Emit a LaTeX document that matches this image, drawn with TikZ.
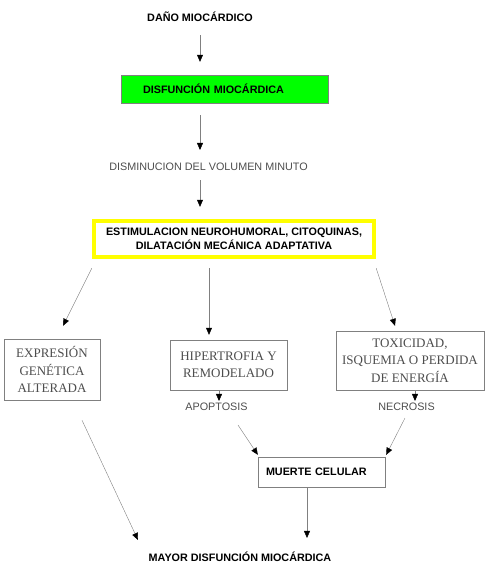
\documentclass[tikz,border=0pt]{standalone}
\usepackage{fontspec}
\setmainfont{Liberation Sans}
\newfontfamily\boxfont{Liberation Serif}
\usetikzlibrary{arrows.meta,positioning,calc}
\definecolor{GREENBOX}{HTML}{00FF00}
\definecolor{YELLOWBOX}{HTML}{FFFF00}
\definecolor{EDGE}{HTML}{808080}
\definecolor{TXTGRAY}{HTML}{4D4D4D}
\tikzset{
    T/.style={inner sep=0pt, font=\fontsize{10.8}{14}\selectfont\bfseries},
    G/.style={inner sep=0pt, text=TXTGRAY, font=\fontsize{10.8}{13}\selectfont},
    B/.style={draw=EDGE, align=center, text=TXTGRAY, font=\boxfont\fontsize{13}{17.5}\selectfont},
    arr/.style={draw=EDGE, -{Triangle[length=7pt,width=6pt,color=black]}},
}

\begin{document}
\begin{tikzpicture}[x=1pt,y=1pt]
        \useasboundingbox (0,0) rectangle (499,-566);

        \node[T] (dano) at (200,-17) {DAÑO MIOCÁRDICO};
        \node[T, draw=EDGE, fill=GREENBOX, minimum height=28pt, text width=163pt, inner xsep=22pt, align=left] (disf) at (224.5,-89) {DISFUNCIÓN MIOCÁRDICA};
        \node[G] (dismin) at (208.5,-167) {DISMINUCION DEL VOLUMEN MINUTO};
        \node[T, draw=EDGE!70!black, double=YELLOWBOX, double distance=4pt, minimum width=280pt, minimum height=36pt, align=center] (estim) at (234,-239) {ESTIMULACION NEUROHUMORAL, CITOQUINAS,\\DILATACIÓN MECÁNICA ADAPTATIVA};

        % three branches
        \node[B, minimum width=96pt, minimum height=61pt] (expr) at (52,-369.5) {EXPRESIÓN\\GENÉTICA\\ALTERADA};
        \node[B, minimum width=117pt, minimum height=50pt] (hiper) at (228.5,-365) {HIPERTROFIA Y\\REMODELADO};
        \node[B, minimum width=148pt, minimum height=59pt] (toxi) at (410,-360.5) {TOXICIDAD,\\ISQUEMIA O PERDIDA\\DE ENERGÍA};
        \node[G] (apop) at (216.5,-407) {APOPTOSIS};
        \node[G] (necr) at (406.5,-407) {NECROSIS};
        \node[T, draw=EDGE, minimum height=30pt, text width=111pt, inner xsep=8pt, align=left] (muerte) at (321.5,-472) {MUERTE CELULAR};
        \node[T] (mayor) at (240,-557) {MAYOR DISFUNCIÓN MIOCÁRDICA};

        \draw[arr] ($(dano.south)+(0,-13)$) -- ($(dano.south |- disf.north)+(0,13)$);
        \draw[arr] ($(disf.south)+(-24.5,-12)$) -- ($(dismin.north)+(-8.5,13)$);
        \draw[arr] ($(dismin.south)+(-8.5,-9)$) -- ($(estim.north)+(-34,14)$);
        \draw[arr] ($(estim.south west)+(-2,-11)$) -- ($(expr.north)+(11,13)$);
        \draw[arr] ($(estim.south)+(-25,-11)$) -- ($(hiper.north)+(-19.5,5)$);
        \draw[arr] ($(estim.south east)+(2,-11)$) -- ($(toxi.north)+(-15,5)$);
        \draw[arr] ($(hiper.south)+(-9.5,0)$) -- ($(apop.north)+(2.5,2)$);
        \draw[arr] ($(toxi.south)+(5,0)$) -- ($(necr.north)+(8.5,2)$);
        \draw[arr] ($(apop.south)+(21.5,-14)$) -- ($(muerte.north west)+(0,2)$);
        \draw[arr] ($(necr.south)+(-1.5,-7)$) -- ($(muerte.north east)+(1,2)$);
        \draw[arr] ($(muerte.south)+(-14.5,-1)$) -- ($(mayor.north)+(67,14)$);
        \draw[arr] ($(expr.south)+(30,-20)$) -- ($(mayor.north)+(-102,12)$);
    \end{tikzpicture}
\end{document}
